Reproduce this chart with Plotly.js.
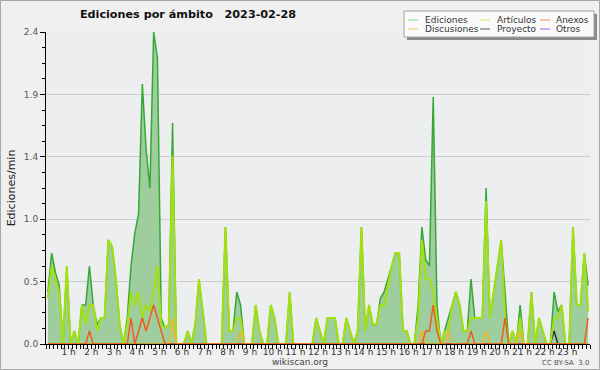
<!DOCTYPE html>
<html><head><meta charset="utf-8">
<script src="https://cdn.plot.ly/plotly-3.0.1.min.js"></script>
<style>html,body{margin:0;padding:0;background:#f0f0f0}</style>
</head><body><div id="chart" style="width:600px;height:370px"></div>
<script>
// ---- data (10-minute bins, Ediciones/min) ----
const seriesNames = ['Ediciones', 'Artículos', 'Anexos', 'Discusiones', 'Proyecto', 'Otros'];
const hourLabels = ['1 h','2 h','3 h','4 h','5 h','6 h','7 h','8 h','9 h','10 h','11 h','12 h',
  '13 h','14 h','15 h','16 h','17 h','18 h','19 h','20 h','21 h','22 h','23 h'];
const yTickValues = [0, 0.48, 0.96, 1.44, 1.92, 2.4];
const yTickLabels = ['0.0', '0.5', '1.0', '1.4', '1.9', '2.4'];
const binMinutes = 10;

const ediciones = [
  0.4, 0.7, 0.55, 0.45, 0, 0.6,
  0, 0.1, 0, 0.3, 0.3, 0.6,
  0.3, 0.15, 0.2, 0.2, 0.8, 0.75,
  0.5, 0.15, 0, 0.2, 0.6, 0.85,
  1.0, 2.0, 1.5, 1.2, 2.4, 2.2,
  0.2, 0.12, 0.15, 1.7, 0, 0,
  0, 0.1, 0, 0.15, 0.5, 0.25,
  0, 0, 0, 0, 0, 0.9,
  0.1, 0.1, 0.4, 0.3, 0, 0,
  0, 0.3, 0.1, 0, 0, 0.3,
  0.2, 0, 0, 0, 0.4, 0,
  0, 0, 0, 0, 0, 0.2,
  0.1, 0, 0.2, 0.2, 0.2, 0,
  0, 0.2, 0.1, 0, 0.1, 0.9,
  0.1, 0.3, 0.15, 0.15, 0.35, 0.4,
  0.5, 0.6, 0.7, 0.7, 0.1, 0.1,
  0, 0, 0.3, 0.9, 0.65, 0.6,
  1.9, 0.3, 0, 0.1, 0.2, 0.3,
  0.4, 0.3, 0.1, 0.1, 0.5, 0.2,
  0.2, 0.2, 1.2, 0.2, 0.4, 0.6,
  0.8, 0.4, 0, 0.1, 0, 0.3,
  0, 0, 0.4, 0, 0.2, 0.1,
  0, 0, 0.4, 0.25, 0.3, 0,
  0, 0.9, 0.3, 0.3, 0.7, 0.45
];
const articulos = [
  0.35, 0.6, 0.5, 0.4, 0, 0.6,
  0, 0.1, 0, 0.3, 0.15, 0.3,
  0.3, 0.1, 0.2, 0.2, 0.8, 0.75,
  0.5, 0.15, 0, 0.15, 0.4, 0.3,
  0.4, 0.2, 0.3, 0.25, 0.4, 0.6,
  0.15, 0.12, 0.15, 1.45, 0, 0,
  0, 0.1, 0, 0.15, 0.5, 0.25,
  0, 0, 0, 0, 0, 0.9,
  0.1, 0.1, 0.2, 0.2, 0, 0,
  0, 0.3, 0.1, 0, 0, 0.3,
  0.2, 0, 0, 0, 0.4, 0,
  0, 0, 0, 0, 0, 0.2,
  0.1, 0, 0.2, 0.2, 0.2, 0,
  0, 0.2, 0.1, 0, 0.1, 0.9,
  0.1, 0.3, 0.15, 0.15, 0.3, 0.3,
  0.45, 0.6, 0.7, 0.7, 0.1, 0.1,
  0, 0, 0.2, 0.8, 0.5, 0.5,
  0.4, 0.2, 0, 0.1, 0.1, 0.3,
  0.4, 0.3, 0.1, 0.1, 0.2, 0.2,
  0.2, 0.2, 1.1, 0.2, 0.4, 0.6,
  0.8, 0.2, 0, 0.1, 0, 0.2,
  0, 0, 0.4, 0, 0.2, 0.1,
  0, 0, 0.2, 0.2, 0.3, 0,
  0, 0.9, 0.3, 0.3, 0.7, 0.25
];
const anexos = [
  0, 0, 0, 0, 0, 0,
  0, 0, 0, 0, 0, 0.1,
  0, 0, 0, 0, 0, 0,
  0, 0, 0, 0, 0.2, 0,
  0.1, 0.2, 0.1, 0.2, 0.3, 0.2,
  0.1, 0, 0, 0, 0, 0,
  0, 0, 0, 0, 0, 0,
  0, 0, 0, 0, 0, 0,
  0, 0, 0, 0, 0, 0,
  0, 0, 0, 0, 0, 0,
  0, 0, 0, 0, 0, 0,
  0, 0, 0, 0, 0, 0,
  0, 0, 0, 0, 0, 0,
  0, 0, 0, 0, 0, 0,
  0, 0, 0, 0, 0, 0,
  0, 0, 0, 0, 0, 0,
  0, 0, 0, 0, 0.1, 0.1,
  0.3, 0.1, 0, 0, 0, 0,
  0, 0, 0, 0, 0.1, 0,
  0, 0, 0, 0, 0, 0,
  0, 0.2, 0, 0, 0, 0,
  0, 0, 0, 0, 0, 0,
  0, 0, 0, 0, 0, 0,
  0, 0, 0, 0, 0, 0.2
];
const discusiones = [
  0, 0, 0, 0, 0, 0,
  0, 0, 0, 0, 0, 0,
  0, 0, 0, 0, 0, 0,
  0, 0, 0, 0, 0, 0,
  0, 0, 0, 0, 0, 0,
  0, 0, 0, 0.2, 0, 0,
  0, 0, 0, 0, 0, 0,
  0, 0, 0, 0, 0, 0,
  0, 0, 0, 0.1, 0, 0,
  0, 0, 0, 0, 0, 0,
  0, 0, 0, 0, 0, 0,
  0, 0, 0, 0, 0, 0,
  0, 0, 0, 0, 0, 0,
  0, 0, 0, 0, 0, 0,
  0, 0, 0, 0, 0, 0,
  0, 0, 0, 0, 0, 0,
  0, 0, 0, 0.1, 0, 0,
  0, 0, 0, 0, 0.1, 0,
  0, 0, 0, 0, 0, 0,
  0, 0, 0.1, 0, 0, 0,
  0, 0, 0, 0, 0, 0.1,
  0, 0, 0, 0, 0, 0,
  0, 0, 0, 0, 0, 0,
  0, 0, 0, 0, 0, 0
];
const proyecto = [
  0, 0, 0, 0, 0, 0,  0, 0, 0, 0, 0, 0,  0, 0, 0, 0, 0, 0,  0, 0, 0, 0, 0, 0,
  0, 0, 0, 0, 0, 0,  0, 0, 0, 0, 0, 0,  0, 0, 0, 0, 0, 0,  0, 0, 0, 0, 0, 0,
  0, 0, 0, 0, 0, 0,  0, 0, 0, 0, 0, 0,  0, 0, 0, 0, 0, 0,  0, 0, 0, 0, 0, 0,
  0, 0, 0, 0, 0, 0,  0, 0, 0, 0, 0, 0,  0, 0, 0, 0, 0, 0,  0, 0, 0, 0, 0, 0,
  0, 0, 0, 0, 0, 0,  0, 0, 0, 0, 0, 0,  0, 0, 0, 0, 0, 0,  0, 0, 0, 0, 0, 0,
  0, 0, 0, 0, 0, 0,  0, 0, 0, 0, 0, 0,  0, 0, 0.1, 0, 0, 0,  0, 0, 0, 0, 0, 0
];
const otros = [
  0, 0, 0, 0, 0, 0,  0, 0, 0, 0, 0, 0,  0, 0, 0, 0, 0, 0,  0, 0, 0, 0, 0, 0,
  0, 0, 0, 0, 0, 0,  0, 0, 0, 0, 0, 0,  0, 0, 0, 0, 0, 0,  0, 0, 0, 0, 0, 0,
  0, 0, 0, 0, 0, 0,  0, 0, 0, 0, 0, 0,  0, 0, 0, 0, 0, 0,  0, 0, 0, 0, 0, 0,
  0, 0, 0, 0, 0, 0,  0, 0, 0, 0, 0, 0,  0, 0, 0, 0, 0, 0,  0, 0, 0, 0, 0, 0,
  0, 0, 0, 0, 0, 0,  0, 0, 0, 0, 0, 0,  0, 0, 0, 0, 0, 0,  0, 0, 0, 0, 0, 0,
  0, 0, 0, 0, 0, 0,  0, 0, 0, 0, 0, 0,  0, 0, 0, 0, 0, 0,  0, 0, 0, 0, 0, 0
];

// ---- styles ----
const lineColors = ['#36a836', '#a2e010', '#ee5c1e', '#f0b820', '#333333', '#8040e0'];
const lineWidths = [1.5, 2, 1.5, 1.5, 1.5, 1.5];
const legendColors = ['#8fd48f', '#cdee6a', '#f08a5a', '#f0d060', '#5a5a5a', '#9a5cf0'];
const fillColor = '#9ecd9e';

const values = [ediciones, articulos, anexos, discusiones, proyecto, otros];
const xMinutes = ediciones.map((_, i) => i * binMinutes + binMinutes / 2);
const hourTicks = hourLabels.map((_, i) => (i + 1) * 60);

// draw order: total first (filled), then the others
const order = [0, 5, 4, 1, 3, 2];
const traces = order.map(s => ({
  type: 'scatter', mode: 'lines', name: seriesNames[s],
  x: xMinutes, y: values[s],
  line: {color: lineColors[s], width: lineWidths[s]},
  fill: s === 0 ? 'tozeroy' : 'none',
  fillcolor: fillColor,
  showlegend: false, hoverinfo: 'skip'
}));

// layout geometry helpers (pixel -> paper)
const L = 46, T = 32, W = 544, H = 312;
const px = p => (p - L) / W;
const py = p => (T + H - p) / H;

const shapes = [
  {type: 'rect', xref: 'paper', yref: 'paper', x0: px(0.5), x1: px(599.5), y0: py(369.5), y1: py(0.5),
   line: {color: '#a8a8a8', width: 1}, fillcolor: 'rgba(0,0,0,0)', layer: 'below'},
  {type: 'rect', xref: 'paper', yref: 'paper', x0: px(407), x1: px(597), y0: py(40), y1: py(14),
   line: {width: 0}, fillcolor: '#8a8a8a', layer: 'above'},
  {type: 'rect', xref: 'paper', yref: 'paper', x0: px(404), x1: px(594), y0: py(37), y1: py(11),
   line: {color: '#a0a0a0', width: 1}, fillcolor: '#fafafa', layer: 'above'}
];
const annotations = [];
const colSwatch = [408, 480, 540], colText = [424, 496, 555], rowY = [20, 29];
const legendOrder = [0, 1, 2, 3, 4, 5];
legendOrder.forEach((s, j) => {
  const c = j % 3, r = Math.floor(j / 3);
  shapes.push({type: 'line', xref: 'paper', yref: 'paper', x0: px(colSwatch[c]), x1: px(colSwatch[c] + 10),
    y0: py(rowY[r]), y1: py(rowY[r]), line: {color: legendColors[s], width: 1}, layer: 'above'});
  annotations.push({xref: 'paper', yref: 'paper', x: px(colText[c]), y: py(rowY[r]),
    xanchor: 'left', yanchor: 'middle', showarrow: false, text: seriesNames[s],
    font: {family: 'DejaVu Sans', size: 9, color: '#333'}, borderpad: 0});
});
annotations.push({xref: 'paper', yref: 'paper', x: px(300), y: py(362), xanchor: 'center', yanchor: 'middle',
  showarrow: false, text: 'wikiscan.org', font: {family: 'DejaVu Sans', size: 9, color: '#444'}, borderpad: 0});
annotations.push({xref: 'paper', yref: 'paper', x: px(590), y: py(363), xanchor: 'right', yanchor: 'middle',
  showarrow: false, text: 'CC BY-SA  3.0', font: {family: 'DejaVu Sans', size: 7, color: '#555'}, borderpad: 0});

const layout = {
  width: 600, height: 370,
  margin: {l: L, r: 600 - L - W, t: T, b: 370 - T - H, pad: 0},
  paper_bgcolor: '#f0f0f0', plot_bgcolor: '#edeef0',
  font: {family: 'DejaVu Sans', color: '#333'},
  title: {text: '<b>Ediciones por ámbito\u00a0\u00a0\u00a02023-02-28</b>', xref: 'container', yref: 'container',
    x: 188 / 600, xanchor: 'center', y: 1 - 14 / 370, yanchor: 'middle',
    font: {family: 'DejaVu Sans', size: 11.2, color: '#111'}},
  xaxis: {range: [0, 1440], tickmode: 'array', tickvals: hourTicks, ticktext: hourLabels,
    ticks: 'outside', ticklen: 4, tickcolor: '#000', tickwidth: 1, ticklabelstandoff: -5,
    showline: true, linecolor: '#000', linewidth: 1, showgrid: false, zeroline: false,
    tickfont: {family: 'DejaVu Sans', size: 9, color: '#333'},
    minor: {tickmode: 'linear', tick0: 0, dtick: binMinutes, ticklen: 4, tickcolor: '#000', showgrid: false},
    fixedrange: true},
  yaxis: {range: [0, 2.4], tickmode: 'array', tickvals: yTickValues, ticktext: yTickLabels,
    ticks: 'outside', ticklen: 5, tickcolor: '#000', tickwidth: 1,
    showline: true, linecolor: '#000', linewidth: 1, showgrid: true, gridcolor: '#cdcdcd', gridwidth: 1,
    zeroline: false,
    tickfont: {family: 'DejaVu Sans', size: 9, color: '#555'},
    minor: {tickmode: 'linear', tick0: 0, dtick: 0.12, ticklen: 3, tickcolor: '#000', showgrid: false},
    title: {text: 'Ediciones/min', font: {family: 'DejaVu Sans', size: 11, color: '#222'}, standoff: 6},
    fixedrange: true},
  shapes: shapes,
  annotations: annotations,
  showlegend: false
};

Plotly.newPlot('chart', traces, layout, {displayModeBar: false, staticPlot: true});
</script>
</body></html>
